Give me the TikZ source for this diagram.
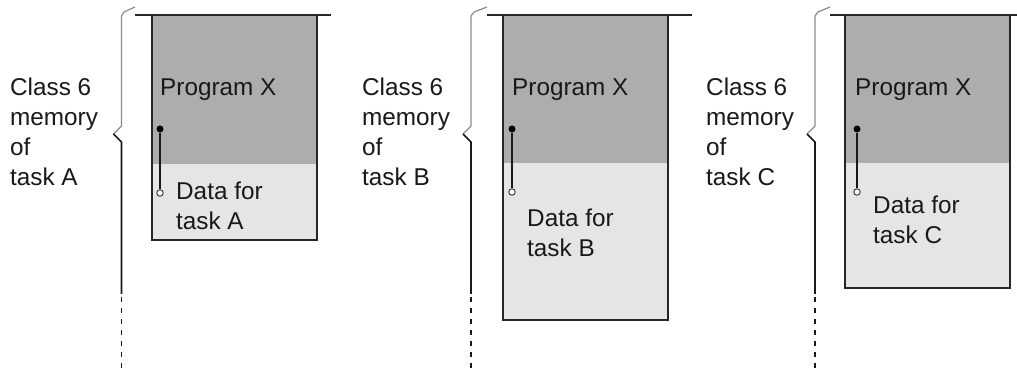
\documentclass[tikz,border=0pt]{standalone}
\usepackage{fontspec}
\setmainfont{Liberation Sans}
\begin{document}
\begin{tikzpicture}[x=1pt,y=-1pt,
  txt/.style={inner sep=0pt,anchor=north west,align=left,text=black!90,
              font=\fontsize{24.3}{30}\selectfont},
  progpart/.style={fill=black!32},
  datapart/.style={fill=black!10},
  frame/.style={draw=black!85,line width=1.6pt},
  braceup/.style={draw=black!45,line width=1.2pt},
  bracedown/.style={draw=black!90,line width=1.6pt},
  dots/.style={draw=black!90,line width=1.6pt,dash pattern=on 5pt off 6pt},
  fulldot/.style={circle,fill=black,inner sep=0pt,minimum size=7pt},
  opendot/.style={circle,draw=black!80,fill=white,line width=0.9pt,inner sep=0pt,minimum size=6.5pt},
  link/.style={draw=black!90,line width=1.8pt}]
\useasboundingbox (0,0) rectangle (1017,371);
\fill[white] (0,0) rectangle (1017,371);

% ---- memory column of task A ----
\begin{scope}
  \fill[progpart] (152,15) rectangle (317,164);
  \fill[datapart] (152,164) rectangle (317,240);
  \draw[frame] (152,15) -- (152,240) -- (317,240) -- (317,15);
  \draw[frame] (135,15) -- (331,15);
  \draw[braceup] (135,7) -- (124,12) -- (121.5,16) -- (121.5,126) -- (113.5,134);
  \draw[bracedown] (113.5,134) -- (121.5,142) -- (121.5,294);
  \draw[dots] (121.5,297) -- (121.5,371);
  \node[txt] (clsA) at (10,78) {Class 6\\memory\\of\\task A};
  \node[txt] (progA) at (160,79) {Program X};
  \node[txt] (dataA) at (176,182) {Data for\\task A};
  \node[fulldot] (ptrA) at (160,129) {};
  \node[opendot] (tgtA) at (160,193) {};
  \draw[link] (ptrA) -- (tgtA);
\end{scope}

% ---- memory column of task B ----
\begin{scope}[xshift=351pt]
  \fill[progpart] (152,15) rectangle (317,163);
  \fill[datapart] (152,163) rectangle (317,320);
  \draw[frame] (152,15) -- (152,320) -- (317,320) -- (317,15);
  \draw[frame] (136,15) -- (341,15);
  \draw[braceup] (136,7) -- (123,12) -- (120,16) -- (120,126) -- (112,134);
  \draw[bracedown] (112,134) -- (120,142) -- (120,294);
  \draw[dots] (120,297) -- (120,371);
  \node[txt] (clsB) at (11,78) {Class 6\\memory\\of\\task B};
  \node[txt] (progB) at (161,79) {Program X};
  \node[txt] (dataB) at (176,209) {Data for\\task B};
  \node[fulldot] (ptrB) at (161,129) {};
  \node[opendot] (tgtB) at (161,192) {};
  \draw[link] (ptrB) -- (tgtB);
\end{scope}

% ---- memory column of task C ----
\begin{scope}[xshift=693pt]
  \fill[progpart] (152,15) rectangle (317,163);
  \fill[datapart] (152,163) rectangle (317,288);
  \draw[frame] (152,15) -- (152,288) -- (317,288) -- (317,15);
  \draw[frame] (137,15) -- (324,15);
  \draw[braceup] (137,7) -- (125,12) -- (122,16) -- (122,126) -- (114,134);
  \draw[bracedown] (114,134) -- (122,142) -- (122,294);
  \draw[dots] (122,297) -- (122,371);
  \node[txt] (clsC) at (13,78) {Class 6\\memory\\of\\task C};
  \node[txt] (progC) at (162,79) {Program X};
  \node[txt] (dataC) at (180,196) {Data for\\task C};
  \node[fulldot] (ptrC) at (164,129) {};
  \node[opendot] (tgtC) at (164,192) {};
  \draw[link] (ptrC) -- (tgtC);
\end{scope}
\end{tikzpicture}
\end{document}
